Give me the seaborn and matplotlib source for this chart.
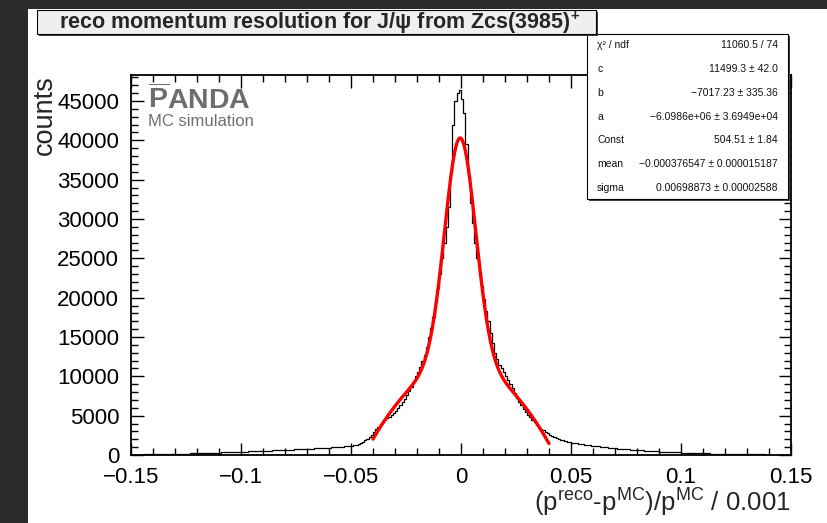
import numpy as np
import pandas as pd
import matplotlib
matplotlib.use("Agg")
import matplotlib.pyplot as plt
import seaborn as sns
from matplotlib.patches import Rectangle
from matplotlib.ticker import MultipleLocator, FuncFormatter

# ---------------- data ----------------
# histogram bins: width 0.001 from -0.15 to 0.15 (300 bins)
left_tail_counts = [
    40, 44, 48, 52, 56, 61, 66, 71, 76, 81,
    86, 91, 97, 103, 109, 115, 121, 127, 133, 139,
    145, 151, 158, 165, 172, 179, 186, 193, 200, 207,
    214, 223, 232, 241, 250, 260, 270, 280, 290, 300,
    310, 320, 331, 342, 353, 364, 375, 386, 397, 409,
    420, 431, 442, 453, 464, 475, 486, 497, 508, 519,
    530, 542, 554, 566, 578, 590, 602, 614, 626, 638,
    650, 663, 676, 690, 704, 718, 732, 746, 760, 775,
    790, 805, 820, 836, 852, 868, 884, 900, 916, 933,
    950, 968, 986, 1005, 1024, 1044, 1064, 1085, 1106, 1128,
    1150, 1210, 1290, 1390, 1520, 1680, 1870, 2080, 2320, 2600,
]
core_left_counts = [
    2950, 3300, 3600, 3900, 4200, 4450, 4650, 4850, 5100, 5350,
    5650, 5950, 6300, 6700, 7150, 7600, 8100, 8650, 9300, 10000,
    10600, 11200, 11900, 12700, 13700, 15000, 16200, 17600, 19400, 21200,
    23000, 25000, 27000, 29000, 31500, 36000, 42000, 45000, 46000, 46400,
]
core_right_counts = [
    45200, 43500, 39500, 35500, 32000, 29500, 27000, 25000, 23300, 21500,
    19800, 18300, 17000, 15500, 14200, 13000, 12200, 11500, 11000, 10500,
    10100, 9500, 9000, 8500, 7900, 7300, 6800, 6300, 5850, 5450,
    5100, 4800, 4450, 4150, 3850, 3600, 3350, 3150, 2950, 2750,
]
right_tail_counts = [
    2550, 2380, 2250, 2150, 2050, 1950, 1860, 1780, 1700, 1630,
    1570, 1520, 1475, 1430, 1390, 1350, 1310, 1270, 1235, 1200,
    1165, 1130, 1095, 1060, 1030, 1000, 970, 940, 910, 880,
    852, 825, 800, 776, 752, 729, 706, 684, 662, 640,
    620, 600, 580, 561, 543, 525, 508, 491, 475, 459,
    444, 429, 414, 400, 386, 372, 359, 346, 333, 321,
    309, 297, 286, 275, 264, 254, 244, 234, 225, 216,
    207, 199, 191, 183, 175, 168, 161, 154, 147, 141,
    135, 129, 123, 118, 113, 108, 103, 99, 95, 91,
    87, 83, 79, 76, 73, 70, 67, 64, 61, 58,
    56, 54, 52, 50, 48, 46, 44, 42, 40, 38,
]
hist_range = (-0.15, 0.15)
n_bins = 300

# fit (pol2 + normalised gaussian), parameters from the stats box
fit_range = (-0.04, 0.04)
fit_c = 11499.3
fit_b = -7017.23
fit_a = -6.0986e+06
fit_const = 504.51
fit_mean = -0.000376547
fit_sigma = 0.00698873

stat_labels = ["χ² / ndf", "c", "b", "a", "Const", "mean", "sigma"]
stat_values = ["11060.5 / 74", "11499.3 ± 42.0", "\u22127017.23 ± 335.36",
               "\u22126.0986e+06 ± 3.6949e+04", "504.51 ± 1.84",
               "\u22120.000376547 ± 0.000015187", "0.00698873 ± 0.00002588"]

title_text = r"reco momentum resolution for J/ψ from Zcs(3985)$^{\mathbf{+}}$"
xlabel_text = r"(p$^{\mathrm{reco}}$-p$^{\mathrm{MC}}$)/p$^{\mathrm{MC}}$ / 0.001"
ylabel_text = "counts"

# ---------------- style ----------------
sns.set_style("ticks")
plt.rcParams["font.family"] = ["Liberation Sans", "DejaVu Sans"]
plt.rcParams["mathtext.fontset"] = "custom"
plt.rcParams["mathtext.rm"] = "Liberation Sans"
plt.rcParams["mathtext.it"] = "Liberation Sans:italic"
plt.rcParams["mathtext.bf"] = "Liberation Sans:bold"

W, H = 827, 523
fig = plt.figure(figsize=(W / 100, H / 100), dpi=100)
fig.patch.set_facecolor("white")


def fx(px):
    return px / W


def fy(py):
    return 1 - py / H


# dark window borders
fig.add_artist(Rectangle((0, 0), fx(28), 1, transform=fig.transFigure,
                         facecolor="#2b2b2b", edgecolor="none", zorder=0))
fig.add_artist(Rectangle((0, fy(9)), 1, 9 / H, transform=fig.transFigure,
                         facecolor="#2b2b2b", edgecolor="none", zorder=0))

ax = fig.add_axes([fx(131), fy(455), fx(791) - fx(131), (455 - 75) / H])

counts = np.array(left_tail_counts + core_left_counts + core_right_counts + right_tail_counts, dtype=float)
bin_w = (hist_range[1] - hist_range[0]) / n_bins
centers = hist_range[0] + bin_w * (np.arange(n_bins) + 0.5)
df = pd.DataFrame({"x": centers, "w": counts})
sns.histplot(data=df, x="x", weights="w", bins=n_bins, binrange=hist_range,
             element="step", fill=False, color="black", linewidth=0.9, ax=ax)

xf = np.linspace(fit_range[0], fit_range[1], 400)
yf = (fit_c + fit_b * xf + fit_a * xf ** 2
      + fit_const / (np.sqrt(2 * np.pi) * fit_sigma) * np.exp(-0.5 * ((xf - fit_mean) / fit_sigma) ** 2))
sns.lineplot(x=xf, y=yf, color="#ff0000", linewidth=2.4, ax=ax)

ax.set_xlim(*hist_range)
ax.set_ylim(0, 48300)
ax.set_xlabel("")
ax.set_ylabel("")
ax.xaxis.set_major_locator(MultipleLocator(0.05))
ax.xaxis.set_minor_locator(MultipleLocator(0.01))
ax.yaxis.set_major_locator(MultipleLocator(5000))
ax.yaxis.set_minor_locator(MultipleLocator(1000))
ax.xaxis.set_major_formatter(FuncFormatter(lambda v, p: ("%g" % round(v, 4)).replace("-", "\u2212")))
ax.yaxis.set_major_formatter(FuncFormatter(lambda v, p: "%d" % round(v)))
ax.tick_params(which="both", direction="in", top=True, right=True, width=1.0,
               labelsize=16, colors="black", pad=8.5)
ax.tick_params(which="major", length=9)
ax.tick_params(which="minor", length=5)
for s in ax.spines.values():
    s.set_linewidth(1.3)
    s.set_color("black")
ax.grid(False)

# axis titles
fig.text(fx(791), fy(512), xlabel_text, ha="right", va="baseline", fontsize=18.5)
fig.text(fx(45), fy(75), ylabel_text, rotation=90, ha="center", va="top", fontsize=19.5)

# PANDA logo
ax.text(0.025, 0.974, r"$\mathbf{\overline{P}ANDA}$", transform=ax.transAxes,
        ha="left", va="top", fontsize=20.5, color="#6e6e6e")
ax.text(0.025, 0.897, "MC simulation", transform=ax.transAxes,
        ha="left", va="top", fontsize=12, color="#6e6e6e")

# stats box
sx0, sy0, sx1, sy1 = 587, 34, 788, 199
fig.add_artist(Rectangle((fx(sx0 + 2), fy(sy1 + 2)), (sx1 - sx0) / W, (sy1 - sy0) / H,
                         transform=fig.transFigure, facecolor="#444444", edgecolor="none", zorder=5))
fig.add_artist(Rectangle((fx(sx0), fy(sy1)), (sx1 - sx0) / W, (sy1 - sy0) / H,
                         transform=fig.transFigure, facecolor="white", edgecolor="black",
                         linewidth=0.8, zorder=6))
for i, (lab, val) in enumerate(zip(stat_labels, stat_values)):
    yy = 45.5 + i * 23.7
    fig.text(fx(597), fy(yy), lab, ha="left", va="center", fontsize=7.5, zorder=7, color="#111111")
    fig.text(fx(778), fy(yy), val, ha="right", va="center", fontsize=7.5, zorder=7, color="#111111")

# title box
tx0, ty0, tx1, ty1 = 37, 10, 596, 34
fig.add_artist(Rectangle((fx(tx0 + 2), fy(ty1 + 2)), (tx1 - tx0) / W, (ty1 - ty0) / H,
                         transform=fig.transFigure, facecolor="#444444", edgecolor="none", zorder=8))
fig.add_artist(Rectangle((fx(tx0), fy(ty1)), (tx1 - tx0) / W, (ty1 - ty0) / H,
                         transform=fig.transFigure, facecolor="#efefef", edgecolor="black",
                         linewidth=0.8, zorder=9))
fig.text(fx(320), fy(23), title_text, ha="center", va="center",
         fontsize=15.5, fontweight="bold", zorder=10)

fig.savefig("out.png", dpi=100, facecolor=fig.get_facecolor())
